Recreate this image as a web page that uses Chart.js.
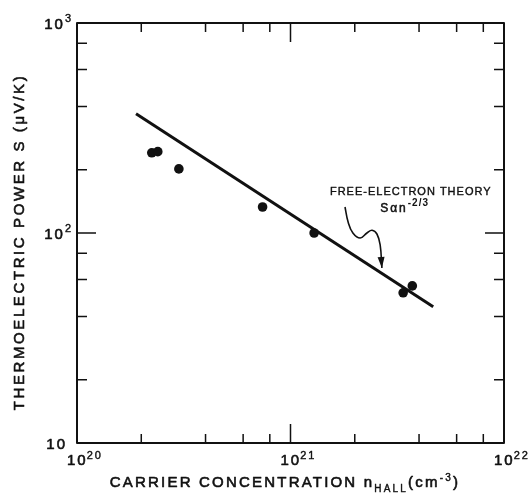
<!DOCTYPE html>
<html>
<head>
  <meta charset="UTF-8">
  <title>Thermoelectric power vs carrier concentration</title>
  <script src="https://cdn.jsdelivr.net/npm/chart.js"></script>
  <style>
    html, body { margin: 0; padding: 0; background: #fff; }
    #wrap { width: 531px; height: 498px; }
  </style>
</head>
<body>
  <div id="wrap"><canvas id="plot" width="531" height="498"></canvas></div>

  <script>
    // measured points: carrier concentration (cm^-3) vs thermopower (uV/K)
    const carrierConc = [2.24e20, 2.39e20, 3.0e20, 7.4e20, 1.29e21, 3.37e21, 3.72e21];
    const thermoPower = [241, 244, 202, 133, 100, 51.9, 56];

    // free-electron theory line, S ~ n^-2/3
    const theoryConc = [1.89e20, 4.66e21];
    const theoryPower = [370, 44.5];

    // curly arrow pointing at the theory line
    const arrowConc = [1.80e21, 1.86e21, 1.96e21, 2.12e21, 2.28e21, 2.41e21, 2.54e21, 2.63e21, 2.68e21];
    const arrowPower = [133, 113, 100, 94.6, 100, 103, 98.9, 87.7, 68.1];

    // axis ticks and labels
    const xMajor = [1e20, 1e21, 1e22];
    const xMinor = [2e20, 4e20, 6e20, 8e20, 2e21, 4e21, 6e21, 8e21];
    const xLabels = [['10', '20'], ['10', '21'], ['10', '22']];
    const yMajor = [10, 100, 1000];
    const yMinor = [20, 40, 60, 80, 200, 400, 600, 800];
    const yLabels = [['10', ''], ['10', '2'], ['10', '3']];

    const noteLine1 = 'FREE-ELECTRON THEORY';
    const notePos1 = [1.53e21, 152];
    const notePos2 = [2.63e21, 126];

    const FONT = '"Liberation Sans", Arial, sans-serif';
    const INK = '#111';

    const zip = (xs, ys) => xs.map((v, i) => ({ x: v, y: ys[i] }));

    // fill plus a thin stroke, to get the heavier lettering of the original
    function ink(ctx, s, x, y, w) {
      ctx.lineWidth = w || 0.6;
      ctx.fillText(s, x, y);
      ctx.strokeText(s, x, y);
    }

    const decor = {
      id: 'decor',
      afterDraw(chart) {
        const { ctx, chartArea: a, scales: { x, y } } = chart;
        ctx.save();
        ctx.strokeStyle = INK;
        ctx.fillStyle = INK;
        ctx.lineJoin = 'round';

        // frame
        ctx.lineWidth = 2;
        ctx.strokeRect(a.left, a.top, a.right - a.left, a.bottom - a.top);

        // inward ticks on all four sides
        ctx.lineWidth = 1.5;
        ctx.beginPath();
        const xt = (v, len) => {
          const px = x.getPixelForValue(v);
          ctx.moveTo(px, a.bottom); ctx.lineTo(px, a.bottom - len);
          ctx.moveTo(px, a.top); ctx.lineTo(px, a.top + len);
        };
        const yt = (v, len) => {
          const py = y.getPixelForValue(v);
          ctx.moveTo(a.left, py); ctx.lineTo(a.left + len, py);
          ctx.moveTo(a.right, py); ctx.lineTo(a.right - len, py);
        };
        xMinor.forEach(v => xt(v, 9));
        xMajor.slice(1, -1).forEach(v => xt(v, 19));
        yMinor.forEach(v => yt(v, 10));
        yMajor.slice(1, -1).forEach(v => yt(v, 19));
        ctx.stroke();

        // tick labels with superscripts
        ctx.letterSpacing = '2px';
        ctx.textBaseline = 'alphabetic';
        ctx.textAlign = 'left';
        xMajor.forEach((v, i) => {
          const px = x.getPixelForValue(v) - 10;
          ctx.font = '15px ' + FONT;
          ink(ctx, xLabels[i][0], px, a.bottom + 22);
          const w = ctx.measureText(xLabels[i][0]).width - 1;
          ctx.font = '11px ' + FONT;
          ink(ctx, xLabels[i][1], px + w, a.bottom + 16, 0.4);
        });
        yMajor.forEach((v, i) => {
          const py = y.getPixelForValue(v);
          const [base, sup] = yLabels[i];
          ctx.font = '11px ' + FONT;
          const ws = sup ? ctx.measureText(sup).width : 0;
          ctx.font = '15px ' + FONT;
          const wb = ctx.measureText(base).width;
          const right = sup ? a.left - 4 : a.left - 10;
          ink(ctx, base, right - ws - wb, py + 6);
          if (sup) {
            ctx.font = '11px ' + FONT;
            ink(ctx, sup, right - ws, py - 1, 0.4);
          }
        });

        // axis titles
        ctx.letterSpacing = '2.2px';
        const parts = [
          ['CARRIER CONCENTRATION n', '15px', 0],
          ['HALL', '10px', 5],
          ['(cm', '15px', 0],
          ['-3', '10px', -6],
          [')', '15px', 0]
        ];
        let total = 0;
        parts.forEach(p => { ctx.font = p[1] + ' ' + FONT; total += ctx.measureText(p[0]).width; });
        let cx = 285 - total / 2;
        parts.forEach(p => {
          ctx.font = p[1] + ' ' + FONT;
          ink(ctx, p[0], cx, 487 + p[2], p[1] === '15px' ? 0.6 : 0.4);
          cx += ctx.measureText(p[0]).width;
        });

        ctx.save();
        ctx.translate(24, 242);
        ctx.rotate(-Math.PI / 2);
        ctx.letterSpacing = '2.6px';
        ctx.font = '15px ' + FONT;
        ctx.textAlign = 'center';
        ink(ctx, 'THERMOELECTRIC POWER S (\u03BCV/K)', 0, 0);
        ctx.restore();

        // annotation text
        ctx.textAlign = 'left';
        ctx.letterSpacing = '1px';
        ctx.font = '11px ' + FONT;
        ink(ctx, noteLine1, x.getPixelForValue(notePos1[0]), y.getPixelForValue(notePos1[1]), 0.4);
        let nx = x.getPixelForValue(notePos2[0]);
        const ny = y.getPixelForValue(notePos2[1]);
        ctx.letterSpacing = '2px';
        ctx.font = '12px ' + FONT;
        ink(ctx, 'S\u03B1n', nx, ny, 0.5);
        nx += ctx.measureText('S\u03B1n').width;
        ctx.letterSpacing = '1px';
        ctx.font = 'bold 10px ' + FONT;
        ctx.fillText('-2/3', nx, ny - 6);

        // arrow head at the end of the curly line
        const pts = chart.getDatasetMeta(2).data;
        const p = pts[pts.length - 1], q = pts[pts.length - 2];
        const ang = Math.atan2(p.y - q.y, p.x - q.x);
        ctx.beginPath();
        ctx.moveTo(p.x, p.y);
        ctx.lineTo(p.x - 11 * Math.cos(ang) + 3.5 * Math.sin(ang), p.y - 11 * Math.sin(ang) - 3.5 * Math.cos(ang));
        ctx.lineTo(p.x - 11 * Math.cos(ang) - 3.5 * Math.sin(ang), p.y - 11 * Math.sin(ang) + 3.5 * Math.cos(ang));
        ctx.closePath();
        ctx.fill();

        ctx.restore();
      }
    };

    new Chart(document.getElementById('plot'), {
      type: 'scatter',
      data: {
        datasets: [
          {
            data: zip(carrierConc, thermoPower),
            pointRadius: 4.8,
            pointBackgroundColor: INK,
            pointBorderColor: INK,
            pointBorderWidth: 0
          },
          {
            data: zip(theoryConc, theoryPower),
            showLine: true,
            borderColor: INK,
            borderWidth: 3,
            pointRadius: 0
          },
          {
            data: zip(arrowConc, arrowPower),
            showLine: true,
            borderColor: INK,
            borderWidth: 1.6,
            tension: 0.4,
            pointRadius: 0
          }
        ]
      },
      options: {
        responsive: false,
        animation: false,
        layout: { padding: { top: 23, right: 27, left: 0, bottom: 0 } },
        plugins: { legend: { display: false }, tooltip: { enabled: false } },
        scales: {
          x: {
            type: 'logarithmic', min: 1e20, max: 1e22,
            ticks: { display: false }, grid: { display: false }, border: { display: false },
            afterFit: s => { s.height = 55; }
          },
          y: {
            type: 'logarithmic', min: 10, max: 1000,
            ticks: { display: false }, grid: { display: false }, border: { display: false },
            afterFit: s => { s.width = 77; }
          }
        }
      },
      plugins: [decor]
    });
  </script>
</body>
</html>
